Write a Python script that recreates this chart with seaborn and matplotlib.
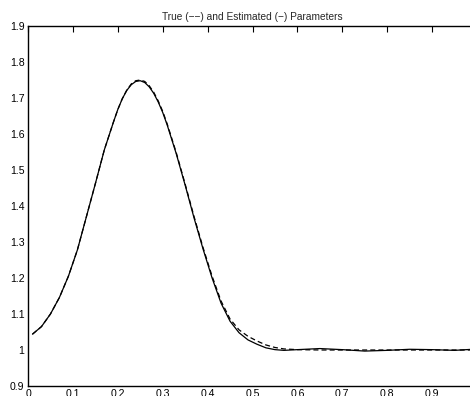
import matplotlib
matplotlib.use("Agg")
import matplotlib.pyplot as plt
import seaborn as sns
import pandas as pd

x_vals = [0.01, 0.03, 0.05, 0.07, 0.09, 0.11, 0.13, 0.15, 0.17, 0.19, 0.20, 0.21,
          0.22, 0.23, 0.24, 0.25, 0.26, 0.27, 0.28, 0.29, 0.30, 0.31, 0.33, 0.35,
          0.37, 0.39, 0.41, 0.43, 0.45, 0.47, 0.49, 0.51, 0.53, 0.55, 0.57, 0.60,
          0.65, 0.70, 0.75, 0.80, 0.85, 0.90, 0.95, 0.99]
estimated = [1.044, 1.065, 1.100, 1.146, 1.205, 1.278, 1.370, 1.462, 1.556, 1.632,
             1.668, 1.698, 1.721, 1.737, 1.746, 1.748, 1.743, 1.731, 1.713, 1.689,
             1.660, 1.625, 1.546, 1.458, 1.366, 1.280, 1.200, 1.130, 1.080, 1.048,
             1.028, 1.016, 1.006, 1.001, 0.999, 1.001, 1.004, 1.001, 0.997, 0.999,
             1.002, 1.001, 0.999, 1.002]
true_vals = [1.044, 1.065, 1.100, 1.146, 1.205, 1.278, 1.370, 1.462, 1.556, 1.632,
             1.668, 1.698, 1.722, 1.739, 1.748, 1.750, 1.746, 1.734, 1.716, 1.692,
             1.663, 1.628, 1.549, 1.461, 1.370, 1.284, 1.205, 1.136, 1.086, 1.056,
             1.038, 1.025, 1.014, 1.007, 1.003, 1.001, 1.000, 1.000, 1.000, 1.000,
             1.000, 1.000, 1.000, 1.000]

x_ticks = [0, 0.1, 0.2, 0.3, 0.4, 0.5, 0.6, 0.7, 0.8, 0.9, 1.0]
x_ticklabels = ["0", "0.1", "0.2", "0.3", "0.4", "0.5", "0.6", "0.7", "0.8", "0.9", "1"]
y_ticks = [0.9, 1.0, 1.1, 1.2, 1.3, 1.4, 1.5, 1.6, 1.7, 1.8, 1.9]
y_ticklabels = ["0.9", "1", "1.1", "1.2", "1.3", "1.4", "1.5", "1.6", "1.7", "1.8", "1.9"]
title = "True (\u2212\u2212) and Estimated (\u2212) Parameters"

sns.set_style("white")
plt.rcParams["font.family"] = ["Liberation Sans", "DejaVu Sans"]

df_est = pd.DataFrame({"x": x_vals, "y": estimated})
df_true = pd.DataFrame({"x": x_vals, "y": true_vals})

fig = plt.figure(figsize=(4.70, 3.96), dpi=100)
ax = fig.add_axes([28 / 470, 10 / 396, 449 / 470, 360 / 396])

sns.lineplot(data=df_est, x="x", y="y", ax=ax, color="black", linewidth=0.9)
sns.lineplot(data=df_true, x="x", y="y", ax=ax, color="black", linewidth=0.9,
             linestyle=(0, (4, 2.5)))

ax.set_xlim(0, 1)
ax.set_ylim(0.9, 1.9)
ax.set_xticks(x_ticks)
ax.set_xticklabels(x_ticklabels)
ax.set_yticks(y_ticks)
ax.set_yticklabels(y_ticklabels)
ax.set_xlabel("")
ax.set_ylabel("")
ax.tick_params(direction="in", length=4, width=0.8, labelsize=7.6, pad=2.5,
               top=True, right=True, colors="black")
for s in ax.spines.values():
    s.set_color("black")
    s.set_linewidth(1.0)
ax.set_title(title, fontsize=7.3, pad=4)

fig.savefig("out.png", dpi=100)
